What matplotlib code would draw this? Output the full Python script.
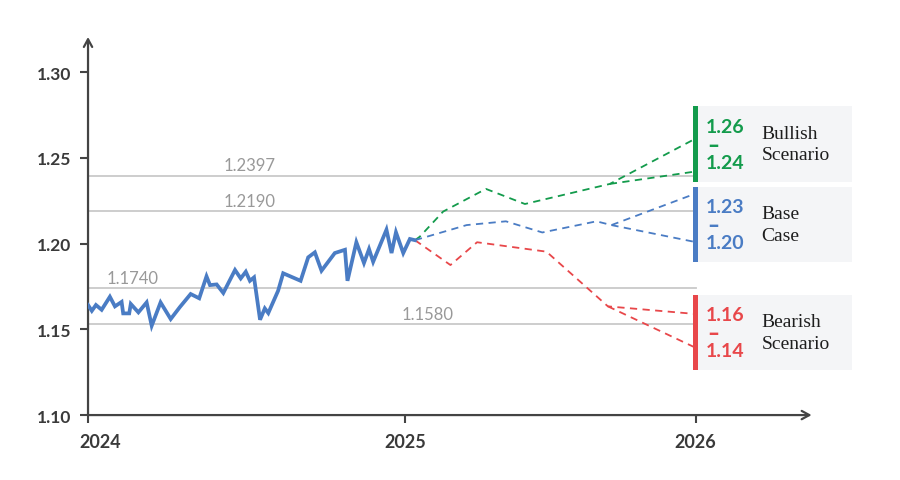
import numpy as np
import matplotlib.pyplot as plt
import matplotlib.transforms as mtransforms
from matplotlib.patches import Rectangle

## historical EUR/USD-like series, x in years since start of 2024
hist_t = [0.0, 0.012, 0.025, 0.043, 0.069, 0.085, 0.106, 0.111, 0.130, 0.135,
          0.159, 0.185, 0.201, 0.229, 0.261, 0.290, 0.324, 0.351, 0.374, 0.385,
          0.406, 0.427, 0.464, 0.482, 0.498, 0.511, 0.524, 0.543, 0.558, 0.569,
          0.600, 0.616, 0.671, 0.695, 0.716, 0.737, 0.779, 0.811, 0.819, 0.847,
          0.871, 0.887, 0.900, 0.942, 0.958, 0.972, 0.995, 1.016, 1.032]
hist_v = [1.1642, 1.1608, 1.1642, 1.1614, 1.1690, 1.1634, 1.1660, 1.1593, 1.1593, 1.1648,
          1.1599, 1.1657, 1.1521, 1.1657, 1.1560, 1.1630, 1.1706, 1.1681, 1.1809, 1.1758,
          1.1762, 1.1712, 1.1846, 1.1797, 1.1836, 1.1783, 1.1803, 1.1556, 1.1622, 1.1595,
          1.1725, 1.1827, 1.1783, 1.1920, 1.1949, 1.1842, 1.1945, 1.1964, 1.1783, 1.2008,
          1.1887, 1.1968, 1.1894, 1.2081, 1.1945, 1.2066, 1.1945, 1.2027, 1.2020]

## forecast paths (common part, then upper / lower branch end)
bull_t = [1.032, 1.047, 1.121, 1.256, 1.379, 1.647]
bull_v = [1.2020, 1.2040, 1.2187, 1.2319, 1.2231, 1.2348]
base_t = [1.032, 1.195, 1.319, 1.434, 1.605, 1.652]
base_v = [1.2020, 1.2108, 1.2130, 1.2065, 1.2130, 1.2108]
bear_t = [1.032, 1.144, 1.228, 1.447, 1.641]
bear_v = [1.2020, 1.1875, 1.2008, 1.1953, 1.1634]
end_t = 1.915
bull_ends = [1.261, 1.242]
base_ends = [1.229, 1.201]
bear_ends = [1.159, 1.1395]

## horizontal reference levels
level_y = [1.2397, 1.2190, 1.1740, 1.1530]
level_txt = ['1.2397', '1.2190', '1.1740', '1.1580']
level_label_t = [0.511, 0.511, 0.142, 1.072]

## scenario boxes
scen_names = ['Bullish\nScenario', 'Base\nCase', 'Bearish\nScenario']
scen_hi = ['1.26', '1.23', '1.16']
scen_lo = ['1.24', '1.20', '1.14']
scen_center = [1.258, 1.211, 1.148]
scen_colors = ['#139b4c', '#4a7cc4', '#e8474a']

year_pos = [0.0, 1.0, 1.918]
year_txt = ['2024', '2025', '2026']
y_ticks = [1.10, 1.15, 1.20, 1.25, 1.30]

axis_col = '#444444'
grey_line = '#c9c9c9'

fig = plt.figure(figsize=(9, 4.81), dpi=100)
ax = fig.add_axes([0.0978, 0.135, 0.804, 0.786])
ax.set_xlim(0, 2.284)
ax.set_ylim(1.10, 1.3205)

for s in ax.spines.values():
    s.set_visible(False)

## axes as arrows
arrow = dict(arrowstyle='->,head_length=0.55,head_width=0.3', lw=1.6, color=axis_col,
             shrinkA=0, shrinkB=0)
ax.annotate('', xy=(0, 1), xytext=(0, 0), xycoords='axes fraction', arrowprops=arrow)
ax.annotate('', xy=(1, 0), xytext=(0, 0), xycoords='axes fraction', arrowprops=arrow)

ax.set_yticks(y_ticks)
ax.set_yticklabels([f'{v:.2f}' for v in y_ticks], fontfamily='Lato',
                   fontweight='bold', fontsize=12.5, color='#3a3a3a')
ax.set_xticks(year_pos)
ax.set_xticklabels(year_txt, fontfamily='Lato', fontweight='bold', fontsize=13,
                   color='#3a3a3a')
ax.tick_params(axis='y', length=6, width=1.5, color=axis_col, pad=6)
ax.tick_params(axis='x', length=6, width=1.5, color=axis_col, pad=7)
lab0 = ax.get_xticklabels()[0]
lab0.set_ha('left')
lab0.set_transform(lab0.get_transform() +
                   mtransforms.ScaledTranslation(-6 / 72, 0, fig.dpi_scale_trans))

## reference levels
for y, txt, lt in zip(level_y, level_txt, level_label_t):
    ax.plot([0, year_pos[2]], [y, y], color=grey_line, lw=1.3, zorder=1)
    ax.text(lt, y + 0.0012, txt, ha='center', va='bottom', fontsize=12,
            fontfamily='Lato', fontweight='normal', color='#999999')

## history
ax.plot(hist_t, hist_v, color='#4a7cc4', lw=2.7, solid_joinstyle='miter', zorder=4)

## forecasts
dash = dict(lw=1.3, ls=(0, (4, 3)), zorder=3)
for ts, vs, ends, c in [(bull_t, bull_v, bull_ends, scen_colors[0]),
                        (base_t, base_v, base_ends, scen_colors[1]),
                        (bear_t, bear_v, bear_ends, scen_colors[2])]:
    ax.plot(ts + [end_t], vs + [ends[0]], color=c, **dash)
    ax.plot(ts[-1:] + [end_t], vs[-1:] + [ends[1]], color=c, **dash)

## scenario boxes
half = 0.022
for name, hi, lo, yc, c in zip(scen_names, scen_hi, scen_lo, scen_center, scen_colors):
    ax.add_patch(Rectangle((1.924, yc - half), 0.489, 2 * half, facecolor='#f4f5f7',
                           edgecolor='none', clip_on=False, zorder=2))
    ax.add_patch(Rectangle((1.909, yc - half), 0.016, 2 * half, facecolor=c,
                           edgecolor='none', clip_on=False, zorder=5))
    tx = 1.95
    ax.text(tx, yc + 0.0105, hi, color=c, fontsize=14, fontfamily='Lato',
            fontweight='bold', ha='left', va='center', clip_on=False)
    ax.text(tx + 0.004, yc, '–', color=c, fontsize=15, fontfamily='Lato',
            fontweight='heavy', ha='left', va='center', clip_on=False)
    ax.text(tx, yc - 0.0105, lo, color=c, fontsize=14, fontfamily='Lato',
            fontweight='bold', ha='left', va='center', clip_on=False)
    ax.text(2.126, yc, name, color='#1e1e1e', fontsize=14, fontfamily='Liberation Serif',
            ha='left', va='center', linespacing=1.35, clip_on=False)

fig.savefig('out.png', dpi=100)
